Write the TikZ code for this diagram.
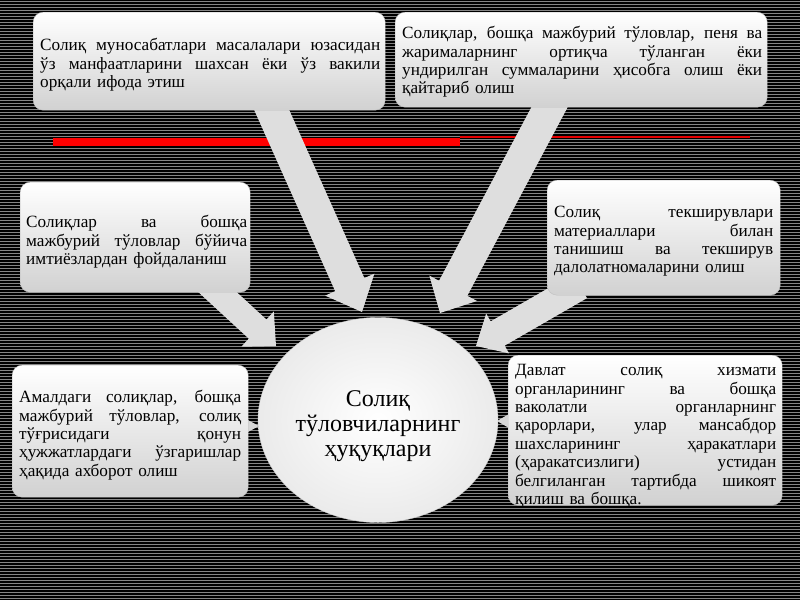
\documentclass[tikz,border=0pt]{standalone}
\usepackage{fontspec}
\setmainfont{Liberation Serif}
\usetikzlibrary{calc,shapes.geometric}
\newcommand\jl[2]{\par\noindent\hbox to #1{\spaceskip=.25em plus 1fil\relax #2}}
\newcommand\lastl[1]{\par\noindent #1}
\newcommand\blockarrow[5]{% start, tip, shaft hw, head hw, head length
  \coordinate (hb) at ($(#2)!#5!(#1)$);
  \fill[arrowfill] ($(#1)!#3!90:(#2)$) -- ($(hb)!#3!90:(#2)$) -- ($(hb)!#4!90:(#2)$)
     -- (#2) -- ($(hb)!#4!-90:(#2)$) -- ($(hb)!#3!-90:(#2)$) -- ($(#1)!#3!-90:(#2)$) -- cycle;
}
\begin{document}
\begin{tikzpicture}[x=1pt,y=-1pt,
  box/.style={rectangle,rounded corners=10pt,top color=white,bottom color=black!18,draw=black!25,line width=0.4pt,inner sep=0pt,anchor=north west},
  txt/.style={inner sep=0pt,anchor=north west,font=\fontsize{17.2}{18.4}\selectfont,align=left},
  arrowfill/.style={fill=black!13},
  tipfill/.style={fill=black!16}]
\useasboundingbox (0,0) rectangle (800,600);
\fill[black] (0,0) rectangle (800,600);
\foreach \i in {0,...,199}{\draw[black!48,line width=1.2pt] (0,3*\i+1.5) -- (800,3*\i+1.5);}
% red rule
\draw[red!90!black,line width=1.2pt] (460,137) -- (750,137);
\draw[red,line width=8pt] (53,142) -- (460,142);
% arrows
\coordinate (sA) at (265,95); \coordinate (tA) at (362,312);
\coordinate (sB) at (556,95); \coordinate (tB) at (440,313);
\coordinate (sC) at (200,276); \coordinate (tC) at (276,346);
\coordinate (sD) at (580,286); \coordinate (tD) at (476,346);
\blockarrow{sA}{tA}{16pt}{27pt}{30pt}
\blockarrow{sB}{tB}{16pt}{27pt}{28pt}
\blockarrow{sC}{tC}{13pt}{24pt}{25pt}
\blockarrow{sD}{tD}{14pt}{23pt}{25pt}
% small tips
\coordinate (lt) at (259,426); \coordinate (rt) at (497,421);
\fill[tipfill] (lt) -- (246,419) -- (246,433) -- cycle;
\fill[tipfill] (rt) -- (509,414) -- (509,428) -- cycle;
% boxes
\node[box,minimum width=352pt,minimum height=98pt] (b1) at (33,12) {};
\node[box,minimum width=372pt,minimum height=95pt] (b2) at (395,12) {};
\node[box,minimum width=230pt,minimum height=110pt] (b3) at (20,182) {};
\node[box,minimum width=233pt,minimum height=115pt] (b4) at (547,180) {};
\node[box,minimum width=236pt,minimum height=132pt] (b5) at (12,365) {};
\node[box,minimum width=274pt,minimum height=150pt] (b6) at (508,355) {};
% centre
\node[ellipse,minimum width=240pt,minimum height=205pt,inner color=white,outer color=black!8,draw=black!20,line width=0.4pt] (c) at (378,420) {};
\node[font=\fontsize{24}{25}\selectfont,align=center] (ct) at (378,426) {Солиқ\\тўловчиларнинг\\ҳуқуқлари};
% texts
\node[txt,text width=340pt] (t1) at (40,32) {\jl{340pt}{Солиқ муносабатлари масалалари юзасидан}\jl{340pt}{ўз манфаатларини шахсан ёки ўз вакили}\lastl{орқали ифода этиш}};
\node[txt,text width=360pt] (t2) at (402,20) {\jl{360pt}{Солиқлар, бошқа мажбурий тўловлар, пеня ва}\jl{360pt}{жарималарнинг ортиқча тўланган ёки}\jl{360pt}{ундирилган суммаларини ҳисобга олиш ёки}\lastl{қайтариб олиш}};
\node[txt,text width=221pt] (t3) at (26,209) {\jl{221pt}{Солиқлар ва бошқа}\jl{221pt}{мажбурий тўловлар бўйича}\lastl{имтиёзлардан фойдаланиш}};
\node[txt,text width=219pt] (t4) at (554,199) {\jl{219pt}{Солиқ текширувлари}\jl{219pt}{материаллари билан}\jl{219pt}{танишиш ва текширув}\lastl{далолатномаларини олиш}};
\node[txt,text width=222pt] (t5) at (19,384) {\jl{222pt}{Амалдаги солиқлар, бошқа}\jl{222pt}{мажбурий тўловлар, солиқ}\jl{222pt}{тўғрисидаги қонун}\jl{222pt}{ҳужжатлардаги ўзгаришлар}\lastl{ҳақида ахборот олиш}};
\node[txt,text width=261pt] (t6) at (515,357) {\jl{261pt}{Давлат солиқ хизмати}\jl{261pt}{органларининг ва бошқа}\jl{261pt}{ваколатли органларнинг}\jl{261pt}{қарорлари, улар мансабдор}\jl{261pt}{шахсларининг ҳаракатлари}\jl{261pt}{(ҳаракатсизлиги) устидан}\jl{261pt}{белгиланган тартибда шикоят}\lastl{қилиш ва бошқа.}};
\end{tikzpicture}
\end{document}
